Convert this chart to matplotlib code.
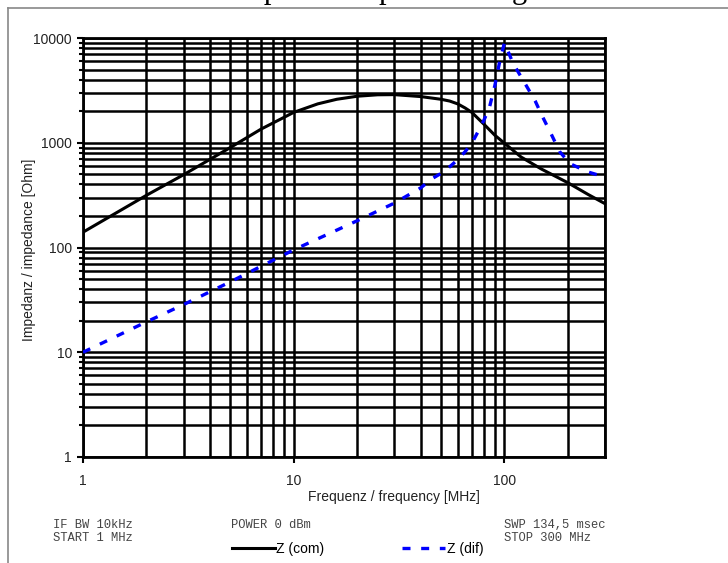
import matplotlib
matplotlib.use("Agg")
import matplotlib.pyplot as plt
from matplotlib.lines import Line2D
from matplotlib.ticker import LogLocator, FixedLocator, NullFormatter, FuncFormatter

# Z(com) common-mode impedance
F_COM = [1, 2, 3, 5, 7, 10, 13, 16, 20, 25, 30, 40, 50, 55, 60, 65, 70, 80,
         90, 100, 120, 150, 200, 250, 300]
Z_COM = [140, 315, 495, 900, 1350, 1950, 2350, 2600, 2780, 2870, 2880, 2760,
         2600, 2500, 2350, 2150, 1950, 1500, 1180, 990, 730, 560, 415, 320, 262]

# Z(dif) differential impedance
F_DIF = [1, 2, 3, 5, 10, 20, 30, 40, 45, 50, 55, 60, 65, 70, 75, 80, 85, 90,
         95, 100, 110, 125, 140, 150, 167, 183, 205, 250, 300]
Z_DIF = [10, 19.5, 28.5, 47, 95, 180, 265, 370, 450, 510, 590, 690, 820, 990,
         1280, 1650, 2200, 3500, 6000, 9000, 5700, 3700, 2500, 1850, 1200, 820,
         630, 525, 470]

X_TICKS = [1, 10, 100]
Y_TICKS = [1, 10, 100, 1000, 10000]

W, H = 728, 563
fig = plt.figure(figsize=(W / 100, H / 100), dpi=100)
ax = fig.add_axes([83 / W, 1 - 457 / H, 522 / W, 419 / H])

ax.plot(F_COM, Z_COM, color="black", lw=2.2, label="Z (com)", zorder=3)
ax.plot(F_DIF, Z_DIF, color="#0000ff", lw=2.4, dashes=(2.4, 3.2),
        label="Z (dif)", zorder=3)

ax.set_xscale("log")
ax.set_yscale("log")
ax.set_xlim(1, 300)
ax.set_ylim(1, 10000)

ax.xaxis.set_major_locator(FixedLocator(X_TICKS))
ax.yaxis.set_major_locator(FixedLocator(Y_TICKS))
ax.xaxis.set_minor_locator(LogLocator(base=10, subs=range(2, 10)))
ax.yaxis.set_minor_locator(LogLocator(base=10, subs=range(2, 10)))
ax.xaxis.set_minor_formatter(NullFormatter())
ax.yaxis.set_minor_formatter(NullFormatter())
fmt = FuncFormatter(lambda v, p: f"{v:g}")
ax.xaxis.set_major_formatter(fmt)
ax.yaxis.set_major_formatter(fmt)

ax.grid(which="both", color="black", lw=1.8)
ax.set_axisbelow(True)
for s in ax.spines.values():
    s.set_linewidth(2)
ax.tick_params(axis="both", which="major", direction="out", length=4,
               width=1.5, labelsize=10, labelcolor="#222222")
ax.tick_params(axis="x", which="major", pad=8)
ax.tick_params(axis="y", which="major", pad=4)
ax.tick_params(axis="y", which="minor", direction="out", length=3, width=1.5)
ax.tick_params(axis="x", which="minor", length=0)
for lab in ax.get_xticklabels() + ax.get_yticklabels():
    lab.set_family("Liberation Sans")

fig.text(394 / W, 1 - 497 / H, "Frequenz / frequency [MHz]", ha="center",
         va="center", fontsize=10, family="Liberation Sans", color="#222222")
fig.text(29 / W, 1 - 250 / H, "Impedanz / impedance [Ohm]", ha="center",
         va="center", rotation=90, fontsize=10, family="Liberation Sans",
         color="#222222")

# instrument settings footer
mono = dict(fontsize=8.7, family="Liberation Mono", color="#444444",
            va="center", ha="left")
fig.text(53 / W, 1 - 525 / H, "IF BW 10kHz", **mono)
fig.text(53 / W, 1 - 538 / H, "START 1 MHz", **mono)
fig.text(231 / W, 1 - 525 / H, "POWER 0 dBm", **mono)
fig.text(504 / W, 1 - 525 / H, "SWP 134,5 msec", **mono)
fig.text(504 / W, 1 - 538 / H, "STOP 300 MHz", **mono)

fig.legend(loc="center left", bbox_to_anchor=(232 / W, 1 - 549 / H), ncol=2,
           frameon=False, handlelength=3.1, handletextpad=0.1,
           columnspacing=5.6, borderpad=0, borderaxespad=0,
           prop={"family": "Liberation Sans", "size": 10})

# page frame and cut-off caption
fig.add_artist(Line2D([8 / W, 8 / W], [0, 1 - 8 / H], color="#888888", lw=1.2))
fig.add_artist(Line2D([8 / W, 1], [1 - 8 / H, 1 - 8 / H], color="#888888", lw=1.2))
fig.text(0.53, 1 + 2 / H, "Impedance  plot  in range", ha="center",
         va="baseline", fontsize=22, family="Liberation Serif", color="black")

fig.savefig("out.png", dpi=100)
